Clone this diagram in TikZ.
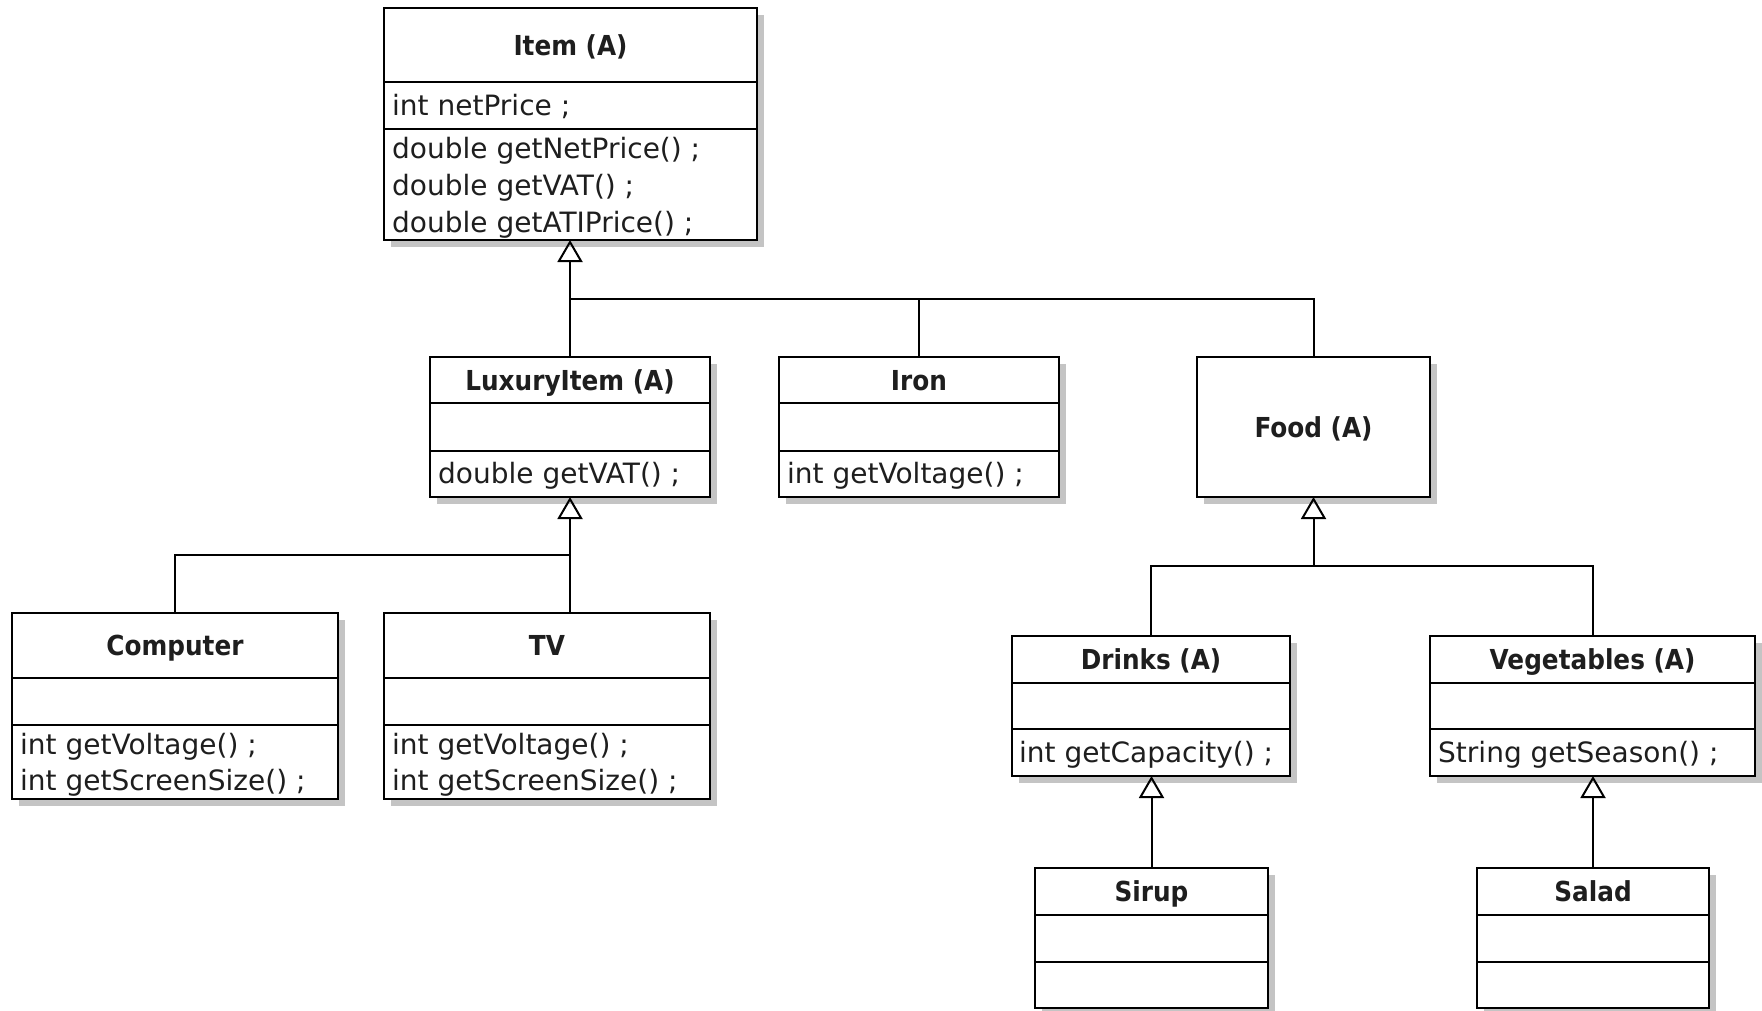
\documentclass[tikz,border=0pt]{standalone}
\usepackage{fontspec}
\setmainfont{DejaVu Sans}
\newfontfamily\ttlfont{DejaVu Sans}[FakeStretch=0.9]
\usetikzlibrary{arrows.meta,shadows}
\definecolor{shadowgray}{HTML}{C4C4C4}
\definecolor{txt}{HTML}{1E1E1E}
\begin{document}
\begin{tikzpicture}[x=1pt,y=-1pt,
  cls/.style={draw=black, line width=2pt, fill=white, inner sep=0pt, outer sep=0pt,
    anchor=north west,
    drop shadow={shadow xshift=7pt, shadow yshift=-7pt, fill=shadowgray, opacity=1}},
  divl/.style={draw=black, line width=2pt},
  mem/.style={anchor=base west, inner sep=0pt, text=txt, font=\fontsize{28}{33}\selectfont},
  ttl/.style={anchor=base, inner sep=0pt, text=txt, font=\ttlfont\bfseries\fontsize{27.5}{33}\selectfont},
  conn/.style={draw=black, line width=2pt},
  gen/.style={conn, -{Triangle[open, length=22pt, width=25pt]}}
]
\fill[white] (0,0) rectangle (1762,1010);
\useasboundingbox (0,0) rectangle (1762,1010);

% ---------- Item ----------
\node[cls, minimum width=373pt, minimum height=232pt] (item) at (384,8) {};
\draw[divl] (item.west |- 0,82) -- (item.east |- 0,82);
\draw[divl] (item.west |- 0,129) -- (item.east |- 0,129);
\node[ttl] (itemT) at (570.5,55) {Item (A)};
\node[mem] (itemA) at (392,115) {int netPrice ;};
\node[mem] (itemM1) at (392,158) {double getNetPrice() ;};
\node[mem] (itemM2) at (392,195) {double getVAT() ;};
\node[mem] (itemM3) at (392,232) {double getATIPrice() ;};

% ---------- LuxuryItem ----------
\node[cls, minimum width=280pt, minimum height=140pt] (lux) at (430,357) {};
\draw[divl] (lux.west |- 0,403) -- (lux.east |- 0,403);
\draw[divl] (lux.west |- 0,451) -- (lux.east |- 0,451);
\node[ttl] (luxT) at (570,390) {LuxuryItem (A)};
\node[mem] (luxM1) at (438,483) {double getVAT() ;};

% ---------- Iron ----------
\node[cls, minimum width=280pt, minimum height=140pt] (iron) at (779,357) {};
\draw[divl] (iron.west |- 0,403) -- (iron.east |- 0,403);
\draw[divl] (iron.west |- 0,451) -- (iron.east |- 0,451);
\node[ttl] (ironT) at (919,390) {Iron};
\node[mem] (ironM1) at (787,483) {int getVoltage() ;};

% ---------- Food ----------
\node[cls, minimum width=233pt, minimum height=140pt] (food) at (1197,357) {};
\node[ttl] (foodT) at (1313.5,437) {Food (A)};

% ---------- Computer ----------
\node[cls, minimum width=326pt, minimum height=186pt] (comp) at (12,613) {};
\draw[divl] (comp.west |- 0,678) -- (comp.east |- 0,678);
\draw[divl] (comp.west |- 0,725) -- (comp.east |- 0,725);
\node[ttl] (compT) at (175,655.5) {Computer};
\node[mem] (compM1) at (20,754) {int getVoltage() ;};
\node[mem] (compM2) at (20,790.5) {int getScreenSize() ;};

% ---------- TV ----------
\node[cls, minimum width=326pt, minimum height=186pt] (tv) at (384,613) {};
\draw[divl] (tv.west |- 0,678) -- (tv.east |- 0,678);
\draw[divl] (tv.west |- 0,725) -- (tv.east |- 0,725);
\node[ttl] (tvT) at (547,655.5) {TV};
\node[mem] (tvM1) at (392,754) {int getVoltage() ;};
\node[mem] (tvM2) at (392,790.5) {int getScreenSize() ;};

% ---------- Drinks ----------
\node[cls, minimum width=278pt, minimum height=140pt] (drinks) at (1012,636) {};
\draw[divl] (drinks.west |- 0,683) -- (drinks.east |- 0,683);
\draw[divl] (drinks.west |- 0,729) -- (drinks.east |- 0,729);
\node[ttl] (drinksT) at (1151,669.5) {Drinks (A)};
\node[mem] (drinksM1) at (1019,762.5) {int getCapacity() ;};

% ---------- Vegetables ----------
\node[cls, minimum width=325pt, minimum height=140pt] (veg) at (1430,636) {};
\draw[divl] (veg.west |- 0,683) -- (veg.east |- 0,683);
\draw[divl] (veg.west |- 0,729) -- (veg.east |- 0,729);
\node[ttl] (vegT) at (1592.5,669.5) {Vegetables (A)};
\node[mem] (vegM1) at (1438,762.5) {String getSeason() ;};

% ---------- Sirup ----------
\node[cls, minimum width=233pt, minimum height=140pt] (sirup) at (1035,868) {};
\draw[divl] (sirup.west |- 0,915) -- (sirup.east |- 0,915);
\draw[divl] (sirup.west |- 0,962) -- (sirup.east |- 0,962);
\node[ttl] (sirupT) at (1151.5,901.5) {Sirup};

% ---------- Salad ----------
\node[cls, minimum width=232pt, minimum height=140pt] (salad) at (1477,868) {};
\draw[divl] (salad.west |- 0,915) -- (salad.east |- 0,915);
\draw[divl] (salad.west |- 0,962) -- (salad.east |- 0,962);
\node[ttl] (saladT) at (1593,901.5) {Salad};

% ---------- connectors ----------
\coordinate (j1) at (570,299);
\coordinate (j2) at (570,555);
\coordinate (j3) at (1313.5,566);
\draw[gen] (lux.north) -- (lux.north |- item.south);
\draw[conn] (iron.north) |- (j1);
\draw[conn] (food.north) |- (j1);

\draw[gen] (lux.south |- tv.north) -- (lux.south);
\draw[conn] (comp.north) |- (j2);

\draw[gen] (j3) -- (food.south);
\draw[conn] (drinks.north) |- (j3) -| (veg.north);

\draw[gen] (sirup.north) -- (sirup.north |- drinks.south);
\draw[gen] (salad.north) -- (salad.north |- veg.south);
\end{tikzpicture}
\end{document}
